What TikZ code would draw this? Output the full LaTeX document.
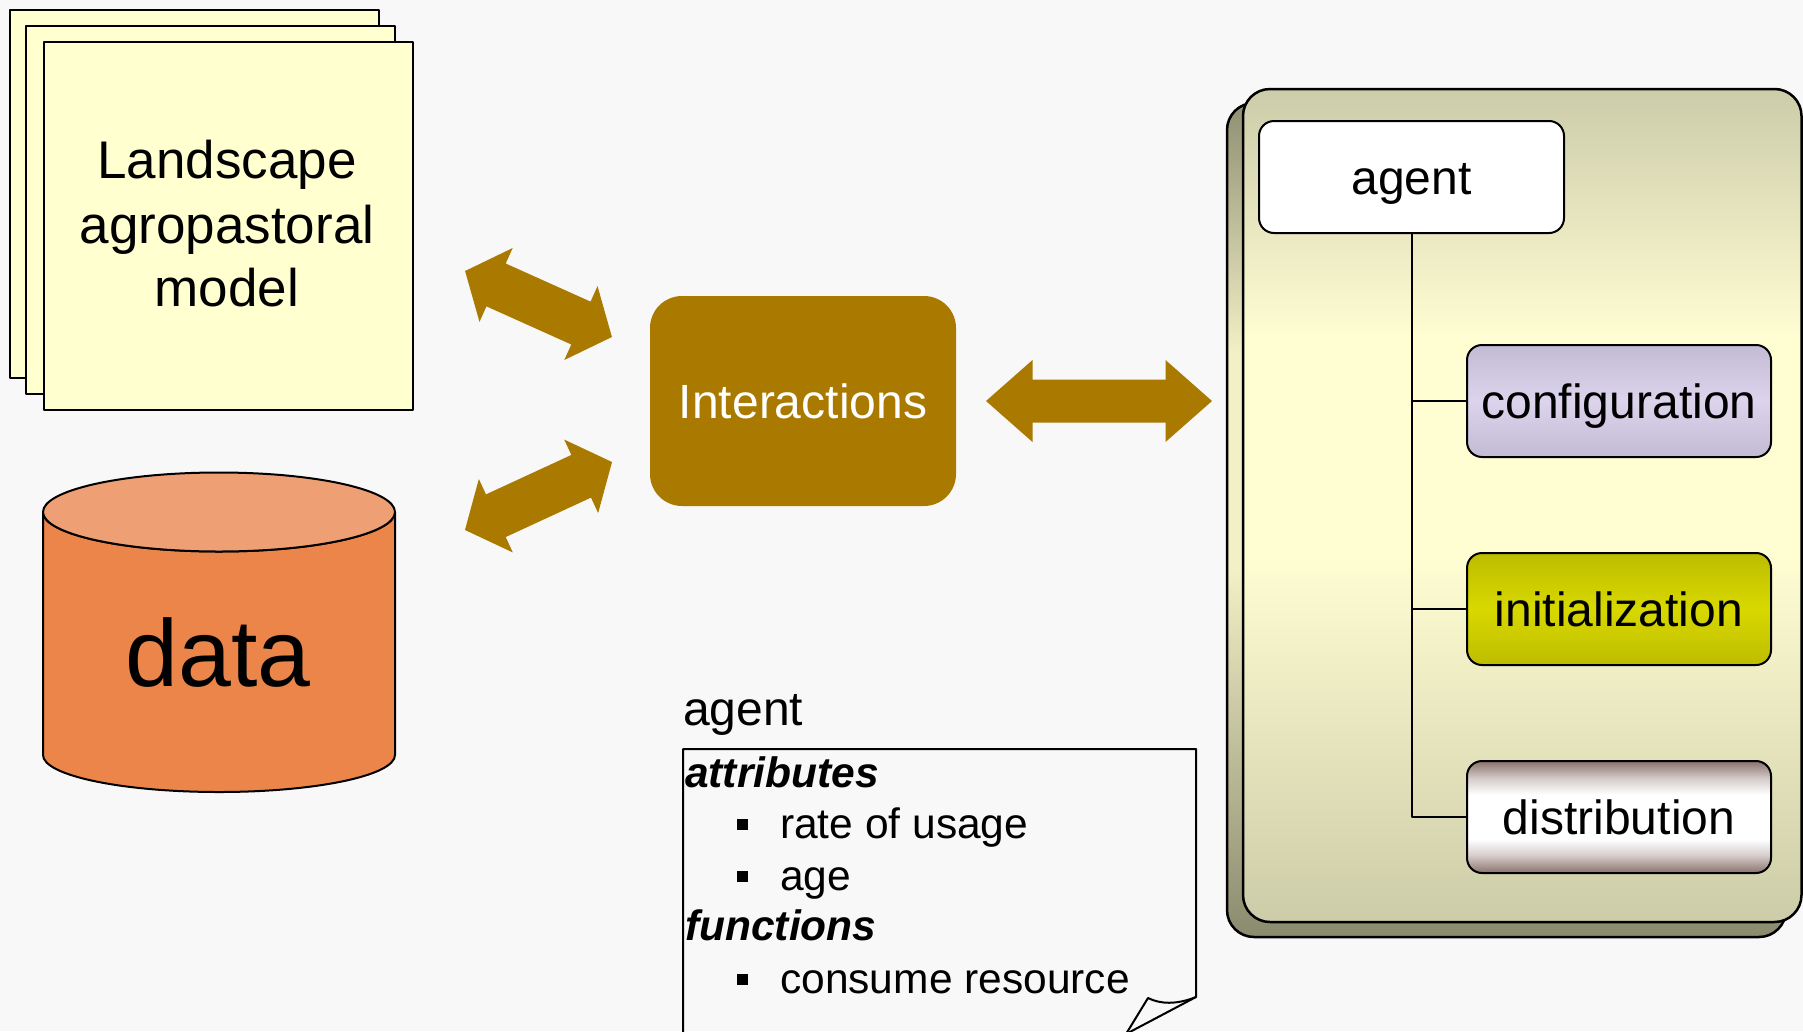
\documentclass[tikz,border=0pt]{standalone}
\usepackage{fontspec}
\setmainfont{Liberation Sans}
\usetikzlibrary{calc}
\definecolor{bg}{HTML}{F8F8F8}
\definecolor{paperfill}{HTML}{FFFFD0}
\definecolor{cylbody}{HTML}{EB8549}
\definecolor{cyltop}{HTML}{EF9F74}
\definecolor{gold}{HTML}{AA7A00}
\definecolor{paneltop}{HTML}{CCCCAA}
\definecolor{panelmid}{HTML}{FFFDD2}
\definecolor{panelbot}{HTML}{CCCCA8}
\definecolor{shadtop}{HTML}{8F8F73}
\definecolor{shadmid}{HTML}{F2F0C6}
\definecolor{shadbot}{HTML}{8A8A6E}
\definecolor{confedge}{HTML}{C3BBD4}
\definecolor{confmid}{HTML}{DCD4EC}
\definecolor{initedge}{HTML}{BDBD00}
\definecolor{initmid}{HTML}{D8D800}
\definecolor{distedge}{HTML}{8A726C}
\pgfdeclareverticalshading{distsh}{100bp}{color(0bp)=(distedge); color(25bp)=(distedge); color(33bp)=(distedge!35!white); color(40bp)=(white); color(60bp)=(white); color(67bp)=(distedge!35!white); color(75bp)=(distedge); color(100bp)=(distedge)}
\pgfdeclareverticalshading{panelsh}{100bp}{color(0bp)=(panelbot); color(25bp)=(panelbot); color(47bp)=(panelmid); color(60bp)=(panelmid); color(75bp)=(paneltop); color(100bp)=(paneltop)}
\pgfdeclareverticalshading{shadsh}{100bp}{color(0bp)=(shadbot); color(25bp)=(shadbot); color(47bp)=(shadmid); color(60bp)=(shadmid); color(75bp)=(shadtop); color(100bp)=(shadtop)}
\newcommand\treefont{\fontsize{48}{58}\selectfont}
\newcommand\landfont{\fontsize{53}{64}\selectfont}
\newcommand\notefont{\fontsize{42.5}{51}\selectfont}
\begin{document}
\begin{tikzpicture}[x=1pt,y=-1pt,line join=round]
\tikzset{
  paper/.style={draw=black, line width=2, fill=paperfill, minimum width=369, minimum height=368, anchor=north west, inner sep=0},
  landtxt/.style={anchor=base, inner sep=0, font=\landfont},
  treebox/.style={draw=black, line width=2, rounded corners=15, minimum width=304, minimum height=112, inner sep=0, text height=34, text depth=0, font=\treefont},
  treeline/.style={draw=black, line width=2},
  notetxt/.style={anchor=base west, inner sep=0, font=\notefont},
  notehead/.style={anchor=base west, inner sep=0, font=\notefont\bfseries\itshape},
  bulletsq/.style={fill=black, minimum size=11, inner sep=0},
  pics/dblarrow/.style args={#1/#2/#3/#4}{code={
    \fill[gold] ({-#1/2},0) -- ({-#1/2+#2},{#3/2}) -- ({-#1/2+#2},{#4/2}) -- ({#1/2-#2},{#4/2}) -- ({#1/2-#2},{#3/2}) -- ({#1/2},0) -- ({#1/2-#2},{-#3/2}) -- ({#1/2-#2},{-#4/2}) -- ({-#1/2+#2},{-#4/2}) -- ({-#1/2+#2},{-#3/2}) -- cycle;
  }}
}
\useasboundingbox (0,0) rectangle (1803,1031);
\fill[bg] (0,0) rectangle (1803,1031);
\clip (0,0) rectangle (1803,1031);

% stacked papers
\node[paper] (paperC) at (9,9) {};
\node[paper] (paperB) at (25,25) {};
\node[paper] (paperA) at (43,41) {};
\node[landtxt] (land1) at (227,178.6) {Landscape};
\node[landtxt] (land2) at (227,243) {agropastoral};
\node[landtxt] (land3) at (227,306) {model};

% cylinder
\path[draw=black, line width=2, fill=cylbody] (43,512) -- (43,755)
  arc[start angle=180, end angle=0, x radius=176, y radius=37] -- (395,512)
  arc[start angle=0, end angle=180, x radius=176, y radius=39.5] -- cycle;
\path[draw=black, line width=2, fill=cyltop] (219,512) ellipse[x radius=176, y radius=39.5];
\node[anchor=base, inner sep=0, font=\fontsize{95}{110}\selectfont] (data) at (218,686) {data};

% interactions
\node[fill=gold, rounded corners=32, minimum width=306, minimum height=210, inner sep=0, text=white, text height=34, text depth=0, font=\treefont] (inter) at (803,401) {Interactions};

% block arrows
\pic at (538.5,304) [rotate=-24.2] {dblarrow=161/34/81/47};
\pic at (538.5,496) [rotate=24.8] {dblarrow=162/34/81/47};
\pic at (1099,401) {dblarrow=226/46.5/82/43};

% panel
\draw[line width=2.5, rounded corners=27, shading=shadsh] (1227,103) rectangle (1786,937);
\draw[line width=2.5, rounded corners=27, shading=panelsh] (1243,89) rectangle (1801.5,922);

\node[treebox, fill=white, minimum width=305] (agent) at (1411.5,177) {agent};
\node[treebox, top color=confedge, bottom color=confedge, middle color=confmid] (config) at (1619,401) {configuration};
\node[treebox, top color=initedge, bottom color=initedge, middle color=initmid] (init) at (1619,609) {initialization};
\node[treebox, shading=distsh] (distr) at (1619,817) {distribution};
\draw[treeline] (agent.south) |- (config.west);
\draw[treeline] (agent.south) |- (init.west);
\draw[treeline] (agent.south) |- (distr.west);

% note
\node[anchor=base west, inner sep=0, font=\treefont] (notelabel) at (683,725) {agent};
\coordinate (nbl) at (683,1040);
\coordinate (ntl) at (683,749);
\coordinate (ntr) at (1196,749);
\coordinate (nfold) at (1196,997);
\coordinate (ncurl) at (1148,998);
\coordinate (nbot) at (1126,1034);
\draw[line width=2] (nbl) -- (ntl) -- (ntr) -- (nfold) -- (nbot);
\draw[line width=2] (nfold) .. controls (1176,1005) and (1160,1004) .. (ncurl) -- (nbot);
\node[notehead] (attr) at (685,787) {attributes};
\node[bulletsq] (bu1) at (742,824) {};
\node[notetxt] (rate) at (780,838) {rate of usage};
\node[bulletsq] (bu2) at (742,876) {};
\node[notetxt] (age) at (780,890) {age};
\node[notehead] (func) at (685,940) {functions};
\node[bulletsq] (bu3) at (742,979) {};
\node[notetxt] (cons) at (780,993) {consume resource};
\end{tikzpicture}
\end{document}
